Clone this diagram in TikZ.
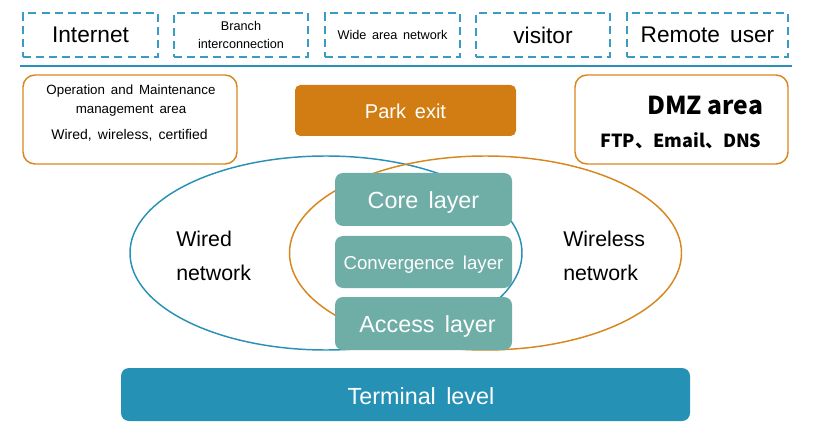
\documentclass[tikz,border=0pt]{standalone}
\usepackage{fontspec}
\setmainfont{Liberation Sans}[WordSpace=1.6]
\newfontfamily\cjk{Noto Sans CJK SC}
\usetikzlibrary{shapes.geometric}
\definecolor{dashblue}{HTML}{3A9CC2}
\definecolor{lineblue}{HTML}{2A90B8}
\definecolor{orng}{HTML}{D8861E}
\definecolor{parkor}{HTML}{D27D14}
\definecolor{tealbox}{HTML}{6EAEA6}
\definecolor{termblue}{HTML}{2491B5}
\newcommand\fz[2]{\fontsize{#1}{#2}\selectfont}
\newcommand\dn[1]{\raisebox{-1.5pt}{#1}}
\tikzset{
  topbox/.style={draw=dashblue, line width=1.2pt, dash pattern=on 6pt off 3.8pt,
    minimum height=44*0.75pt, inner sep=0pt, align=center},
  orbox/.style={draw=orng, line width=1.1pt, rounded corners=9pt,
    minimum width=214*0.75pt, minimum height=89*0.75pt, inner sep=0pt},
  layerbox/.style={fill=tealbox, rounded corners=6pt, minimum width=177*0.75pt,
    minimum height=53*0.75pt, inner sep=0pt, text=white, text depth=0pt},
  ring/.style={ellipse, line width=1.1pt, minimum width=392*0.75pt,
    minimum height=194*0.75pt, inner sep=0pt},
  lbl/.style={inner sep=0pt, align=left, anchor=west, font=\fz{16}{25.5}}
}
\begin{document}
\begin{tikzpicture}[x=0.75pt,y=-0.75pt]
\useasboundingbox (0,0) rectangle (820,438);
% top row
\node[topbox, minimum width=135*0.75pt, font=\fz{17}{20}] (inet) at (90.5,35) {Internet};
\node[topbox, minimum width=134*0.75pt, font=\fz{9.5}{14}] (branch) at (241,35) {Branch\\interconnection};
\node[topbox, minimum width=135*0.75pt, font=\fz{9.5}{12}] (wan) at (392.5,35) {Wide area network};
\node[topbox, minimum width=134*0.75pt, font=\fz{17}{20}] (visit) at (543,35) {visitor};
\node[topbox, minimum width=161*0.75pt, font=\fz{17}{20}] (remote) at (707.5,35) {Remote user};
\coordinate (lineL) at (20,66);
\coordinate (lineR) at (792,66);
\draw[lineblue, line width=2pt] (lineL) -- (lineR);
% second row
\node[orbox] (om) at (130,119.5) {};
\node[inner sep=0pt, align=center, font=\fz{10}{14}] (omt) at (131,100.5) {Operation and Maintenance\\management area};
\node[inner sep=0pt, font=\fz{10.5}{12}] (omw) at (129.5,135.5) {Wired, wireless, certified};
\node[fill=parkor, rounded corners=4pt, minimum width=221*0.75pt, minimum height=51*0.75pt,
  inner sep=0pt, text=white, text depth=0pt, font=\fz{15}{18}] (park) at (405.5,110.5) {\dn{Park exit}};
\node[orbox, minimum width=213*0.75pt] (dmz) at (681.5,119.5) {};
\node[inner sep=0pt, font=\cjk\bfseries\fz{18.5}{20}] (dmzt) at (705,105) {DMZ area};
\node[inner sep=0pt, font=\cjk\bfseries\fz{13.5}{16}] (dmzs) at (681,141) {FTP、Email、DNS};
% rings
\node[ring, draw=lineblue] (wired) at (326,253) {};
\node[ring, draw=orng] (wireless) at (485.5,253) {};
\node[lbl] (wiredt) at (176,256) {Wired\\network};
\node[lbl] (wirelesst) at (563,256) {Wireless\\network};
% layers
\node[layerbox, font=\fz{17.5}{20}] (core) at (423.5,199.5) {\dn{Core layer}};
\node[layerbox, minimum height=52*0.75pt, font=\fz{14}{16}] (conv) at (423.5,262) {\dn{Convergence layer}};
\node[layerbox, font=\fz{17.5}{20}] (access) at (423.5,323.5) {\hspace*{6pt}\raisebox{-0.8pt}{Access layer}};
% terminal
\node[fill=termblue, rounded corners=6pt, minimum width=569*0.75pt, minimum height=53*0.75pt,
  inner sep=0pt] (term) at (405.5,394.5) {};
\node[inner sep=0pt, text=white, text depth=0pt, font=\fz{17.5}{20}] (termt) at (421,396.5) {Terminal level};
\end{tikzpicture}
\end{document}
